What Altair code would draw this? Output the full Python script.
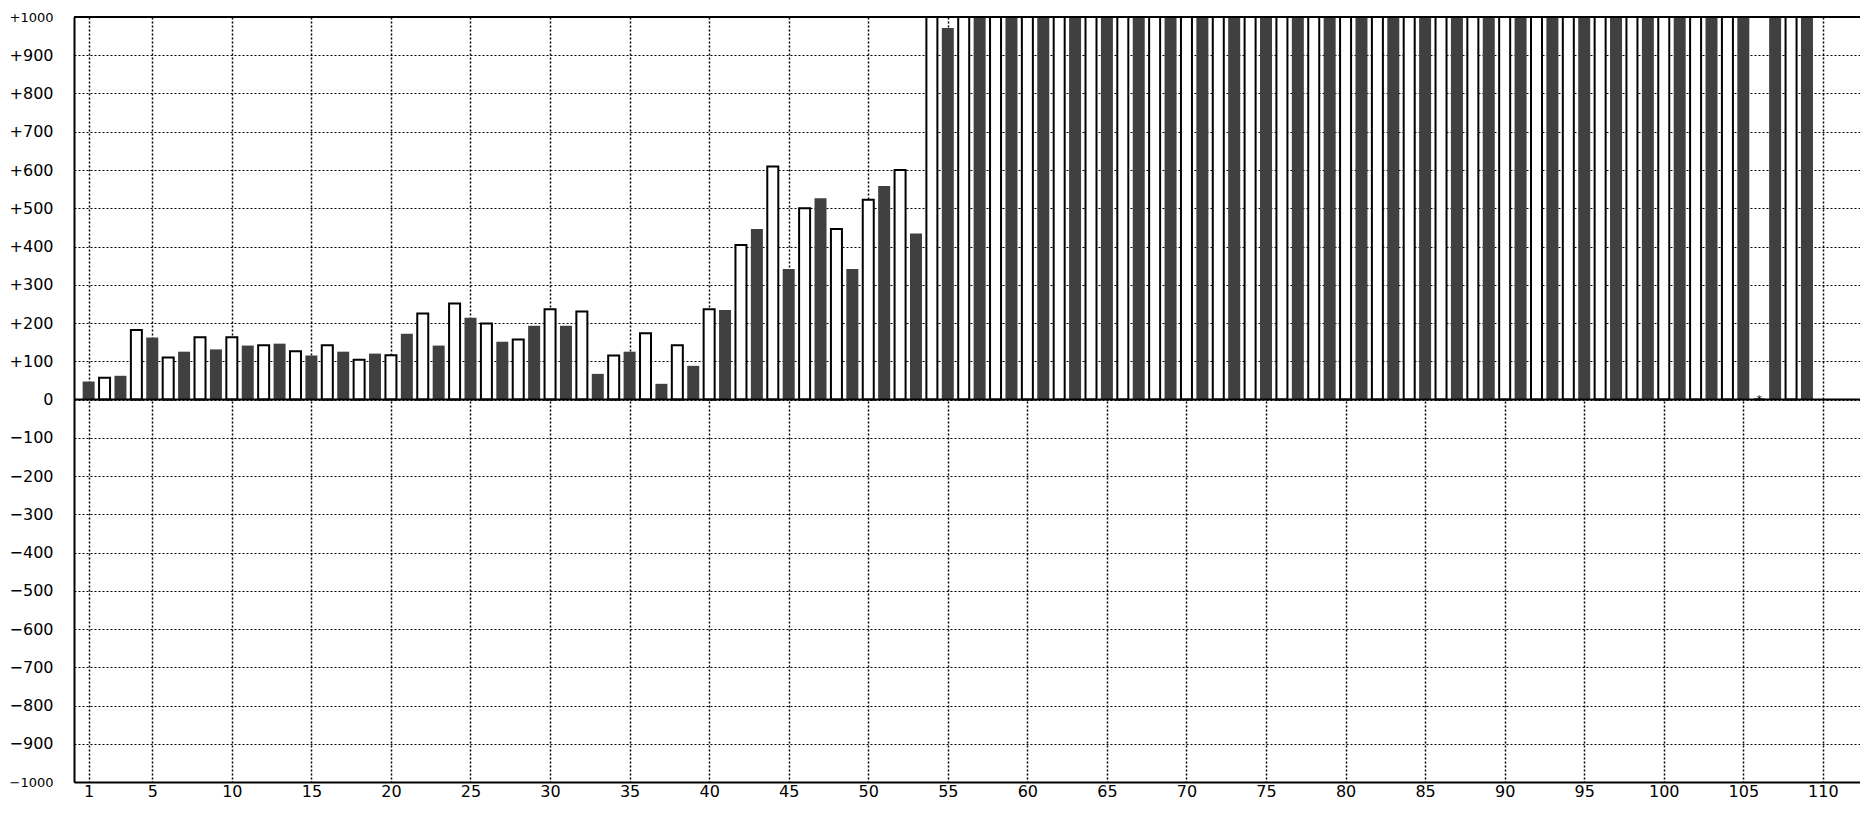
import altair as alt
import pandas as pd

# bar index (1..109); bars beyond the top are clipped at 1000
index = list(range(1, 110))
values = [
    47, 57, 62, 182, 162, 110, 125, 163, 131, 163,
    141, 142, 146, 126, 115, 142, 125, 104, 120, 116,
    172, 225, 141, 251, 214, 199, 151, 157, 193, 236,
    193, 230, 67, 115, 125, 173, 41, 142, 88, 236,
    234, 404, 446, 609, 341, 500, 526, 446, 341, 522,
    558, 600, 434, 1000, 971, 1000, 1000, 1000, 1000, 1000,
    1000, 1000, 1000, 1000, 1000, 1000, 1000, 1000, 1000, 1000,
    1000, 1000, 1000, 1000, 1000, 1000, 1000, 1000, 1000, 1000,
    1000, 1000, 1000, 1000, 1000, 1000, 1000, 1000, 1000, 1000,
    1000, 1000, 1000, 1000, 1000, 1000, 1000, 1000, 1000, 1000,
    1000, 1000, 1000, 1000, 1000, 0, 1000, 1000, 1000,
]
kind = ["dark" if i % 2 == 1 else "white" for i in index]
x_ticks = [1, 5, 10, 15, 20, 25, 30, 35, 40, 45, 50, 55, 60, 65, 70, 75, 80, 85, 90, 95, 100, 105, 110]
y_ticks = list(range(-1000, 1001, 100))
marker_index = [106]
marker_value = [0]

df = pd.DataFrame({"i": index, "v": values, "kind": kind})
mk = pd.DataFrame({"i": marker_index, "v": marker_value})
lines = pd.DataFrame({"i": [50, 50], "v": [0, 1000]})

FONT = "DejaVu Sans"
xscale = alt.Scale(domain=[0.394, 112.019], nice=False, zero=False)
yscale = alt.Scale(domain=[-1000, 1000], nice=False)

xaxis = alt.Axis(values=x_ticks, grid=True, gridColor="black", gridDash=[2, 2], gridWidth=1.5,
                 domain=True, domainColor="black", domainWidth=2, ticks=False,
                 labelFont=FONT, labelFontSize=16, labelColor="black",
                 labelPadding=1, labelFlush=False, labelOverlap=False, title=None)
yaxis = alt.Axis(values=y_ticks, grid=True, gridColor="black", gridDash=[2, 2], gridWidth=1.2,
                 domain=True, domainColor="black", domainWidth=2, ticks=False,
                 labelFont=FONT, labelColor="black",
                 labelFontSize={"condition": {"test": "abs(datum.value) >= 1000", "value": 13}, "value": 16},
                 labelPadding=21, labelOverlap=False, labelFlush=False, title=None,
                 labelExpr="datum.value > 0 ? '+' + datum.value : (datum.value < 0 ? '\u2212' + abs(datum.value) : '0')")

X = alt.X("i:Q", scale=xscale, axis=xaxis)
Y = alt.Y("v:Q", scale=yscale, axis=yaxis, stack=None)

base = alt.Chart(df)

dark = base.transform_filter(alt.datum.kind == "dark").mark_bar(
    size=12, color="#404040", clip=True
).encode(x=X, y=Y)

white = base.transform_filter(alt.datum.kind == "white").mark_bar(
    size=11, fill="white", stroke="black", strokeWidth=2, clip=True
).encode(x=X, y=Y)

# zero line and top border line
hlines = alt.Chart(lines).mark_rule(color="black", strokeWidth=2).encode(y=Y)

marker = alt.Chart(mk).mark_text(text="*", font=FONT, fontSize=11, color="black", baseline="middle").encode(
    x=X, y=Y
)

chart = alt.layer(dark, white, hlines, marker).properties(
    width=1786, height=765,
    background="white",
    autosize=alt.AutoSizeParams(type="none"),
    padding={"left": 66, "top": 9, "right": 0, "bottom": 20},
).configure_view(strokeWidth=0, stroke=None)

chart.save("out.html", embed_options={"renderer": "svg", "actions": False})
